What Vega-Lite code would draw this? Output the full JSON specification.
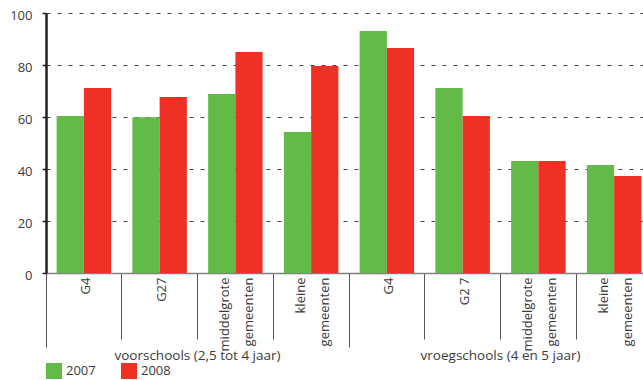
{
  "$schema": "https://vega.github.io/schema/vega-lite/v6.json",
  "autosize": {"type": "none"},
  "width": 606,
  "height": 260,
  "padding": {"left": 46, "top": 13, "right": -9, "bottom": 107},
  "background": "white",
  "config": {
    "font": "Open Sans",
    "view": {"stroke": null},
    "axis": {"labelFont": "Open Sans", "labelColor": "#3a3a3a", "labelFontSize": 13},
    "legend": {"labelFont": "Open Sans"}
  },
  "data": {
    "values": [
      {"cat": "voorschools|G4", "section": "voorschools (2,5 tot 4 jaar)", "year": "2007", "value": 60.4},
      {"cat": "voorschools|G4", "section": "voorschools (2,5 tot 4 jaar)", "year": "2008", "value": 71.2},
      {"cat": "voorschools|G27", "section": "voorschools (2,5 tot 4 jaar)", "year": "2007", "value": 59.9},
      {"cat": "voorschools|G27", "section": "voorschools (2,5 tot 4 jaar)", "year": "2008", "value": 67.7},
      {"cat": "voorschools|middelgrote_gemeenten", "section": "voorschools (2,5 tot 4 jaar)", "year": "2007", "value": 68.8},
      {"cat": "voorschools|middelgrote_gemeenten", "section": "voorschools (2,5 tot 4 jaar)", "year": "2008", "value": 85.0},
      {"cat": "voorschools|kleine_gemeenten", "section": "voorschools (2,5 tot 4 jaar)", "year": "2007", "value": 54.2},
      {"cat": "voorschools|kleine_gemeenten", "section": "voorschools (2,5 tot 4 jaar)", "year": "2008", "value": 79.6},
      {"cat": "vroegschools|G4", "section": "vroegschools (4 en 5 jaar)", "year": "2007", "value": 93.1},
      {"cat": "vroegschools|G4", "section": "vroegschools (4 en 5 jaar)", "year": "2008", "value": 86.5},
      {"cat": "vroegschools|G2 7", "section": "vroegschools (4 en 5 jaar)", "year": "2007", "value": 71.2},
      {"cat": "vroegschools|G2 7", "section": "vroegschools (4 en 5 jaar)", "year": "2008", "value": 60.4},
      {"cat": "vroegschools|middelgrote_gemeenten", "section": "vroegschools (4 en 5 jaar)", "year": "2007", "value": 43.1},
      {"cat": "vroegschools|middelgrote_gemeenten", "section": "vroegschools (4 en 5 jaar)", "year": "2008", "value": 43.1},
      {"cat": "vroegschools|kleine_gemeenten", "section": "vroegschools (4 en 5 jaar)", "year": "2007", "value": 41.5},
      {"cat": "vroegschools|kleine_gemeenten", "section": "vroegschools (4 en 5 jaar)", "year": "2008", "value": 37.3}
    ]
  },
  "layer": [
    {
      "mark": {"type": "bar"},
      "encoding": {
        "x": {
          "field": "cat", "type": "nominal", "sort": null,
          "scale": {"paddingInner": 0, "paddingOuter": 0},
          "axis": {
            "title": null, "orient": "bottom", "bandPosition": 0,
            "domainColor": "#808080", "domainWidth": 1.5,
            "tickColor": "#555555", "tickWidth": 1, "tickSize": 66,
            "labelAngle": -90, "labelPadding": -62,
            "labelExpr": "split(split(datum.label, '|')[1], '_')",
            "labelLineHeight": 24,
            "labelOffset": {"condition": {"test": "indexof(datum.value, '_') >= 0", "value": -10}, "value": 2},
            "grid": false
          }
        },
        "xOffset": {
          "field": "year", "type": "nominal",
          "scale": {"paddingInner": 0, "paddingOuter": 0.39}
        },
        "y": {
          "field": "value", "type": "quantitative",
          "scale": {"domain": [0, 100], "nice": false},
          "axis": {
            "title": null, "values": [0, 20, 40, 60, 80, 100],
            "grid": true, "gridDash": [4, 7], "gridColor": "#444444", "gridWidth": 1,
            "domainColor": "#231f20", "domainWidth": 2.5,
            "tickColor": "#231f20", "tickSize": 4, "tickWidth": 1.5,
            "labelPadding": 10, "labelOffset": 2
          }
        },
        "color": {
          "field": "year", "type": "nominal",
          "scale": {"domain": ["2007", "2008"], "range": ["#62bb46", "#ee3124"]},
          "legend": {
            "title": null, "orient": "none", "legendX": 0, "legendY": 350,
            "direction": "horizontal", "symbolType": "square", "symbolSize": 256,
            "symbolStrokeWidth": 0, "labelFontSize": 13, "labelColor": "#3a3a3a",
            "labelOffset": 4, "columnPadding": 25, "padding": 0
          }
        }
      }
    },
    {
      "mark": {"type": "rule", "opacity": 0},
      "encoding": {
        "x": {
          "field": "section", "type": "nominal", "sort": null,
          "scale": {"paddingInner": 0, "paddingOuter": 0},
          "axis": {
            "title": null, "orient": "bottom", "bandPosition": 0,
            "domain": false, "tickSize": 74, "tickColor": "#555555", "tickWidth": 1,
            "labelPadding": 1, "labelAngle": 0, "labelBaseline": "top",
            "labelFontSize": 13.5, "grid": false
          }
        }
      }
    }
  ],
  "resolve": {"scale": {"x": "independent"}}
}
